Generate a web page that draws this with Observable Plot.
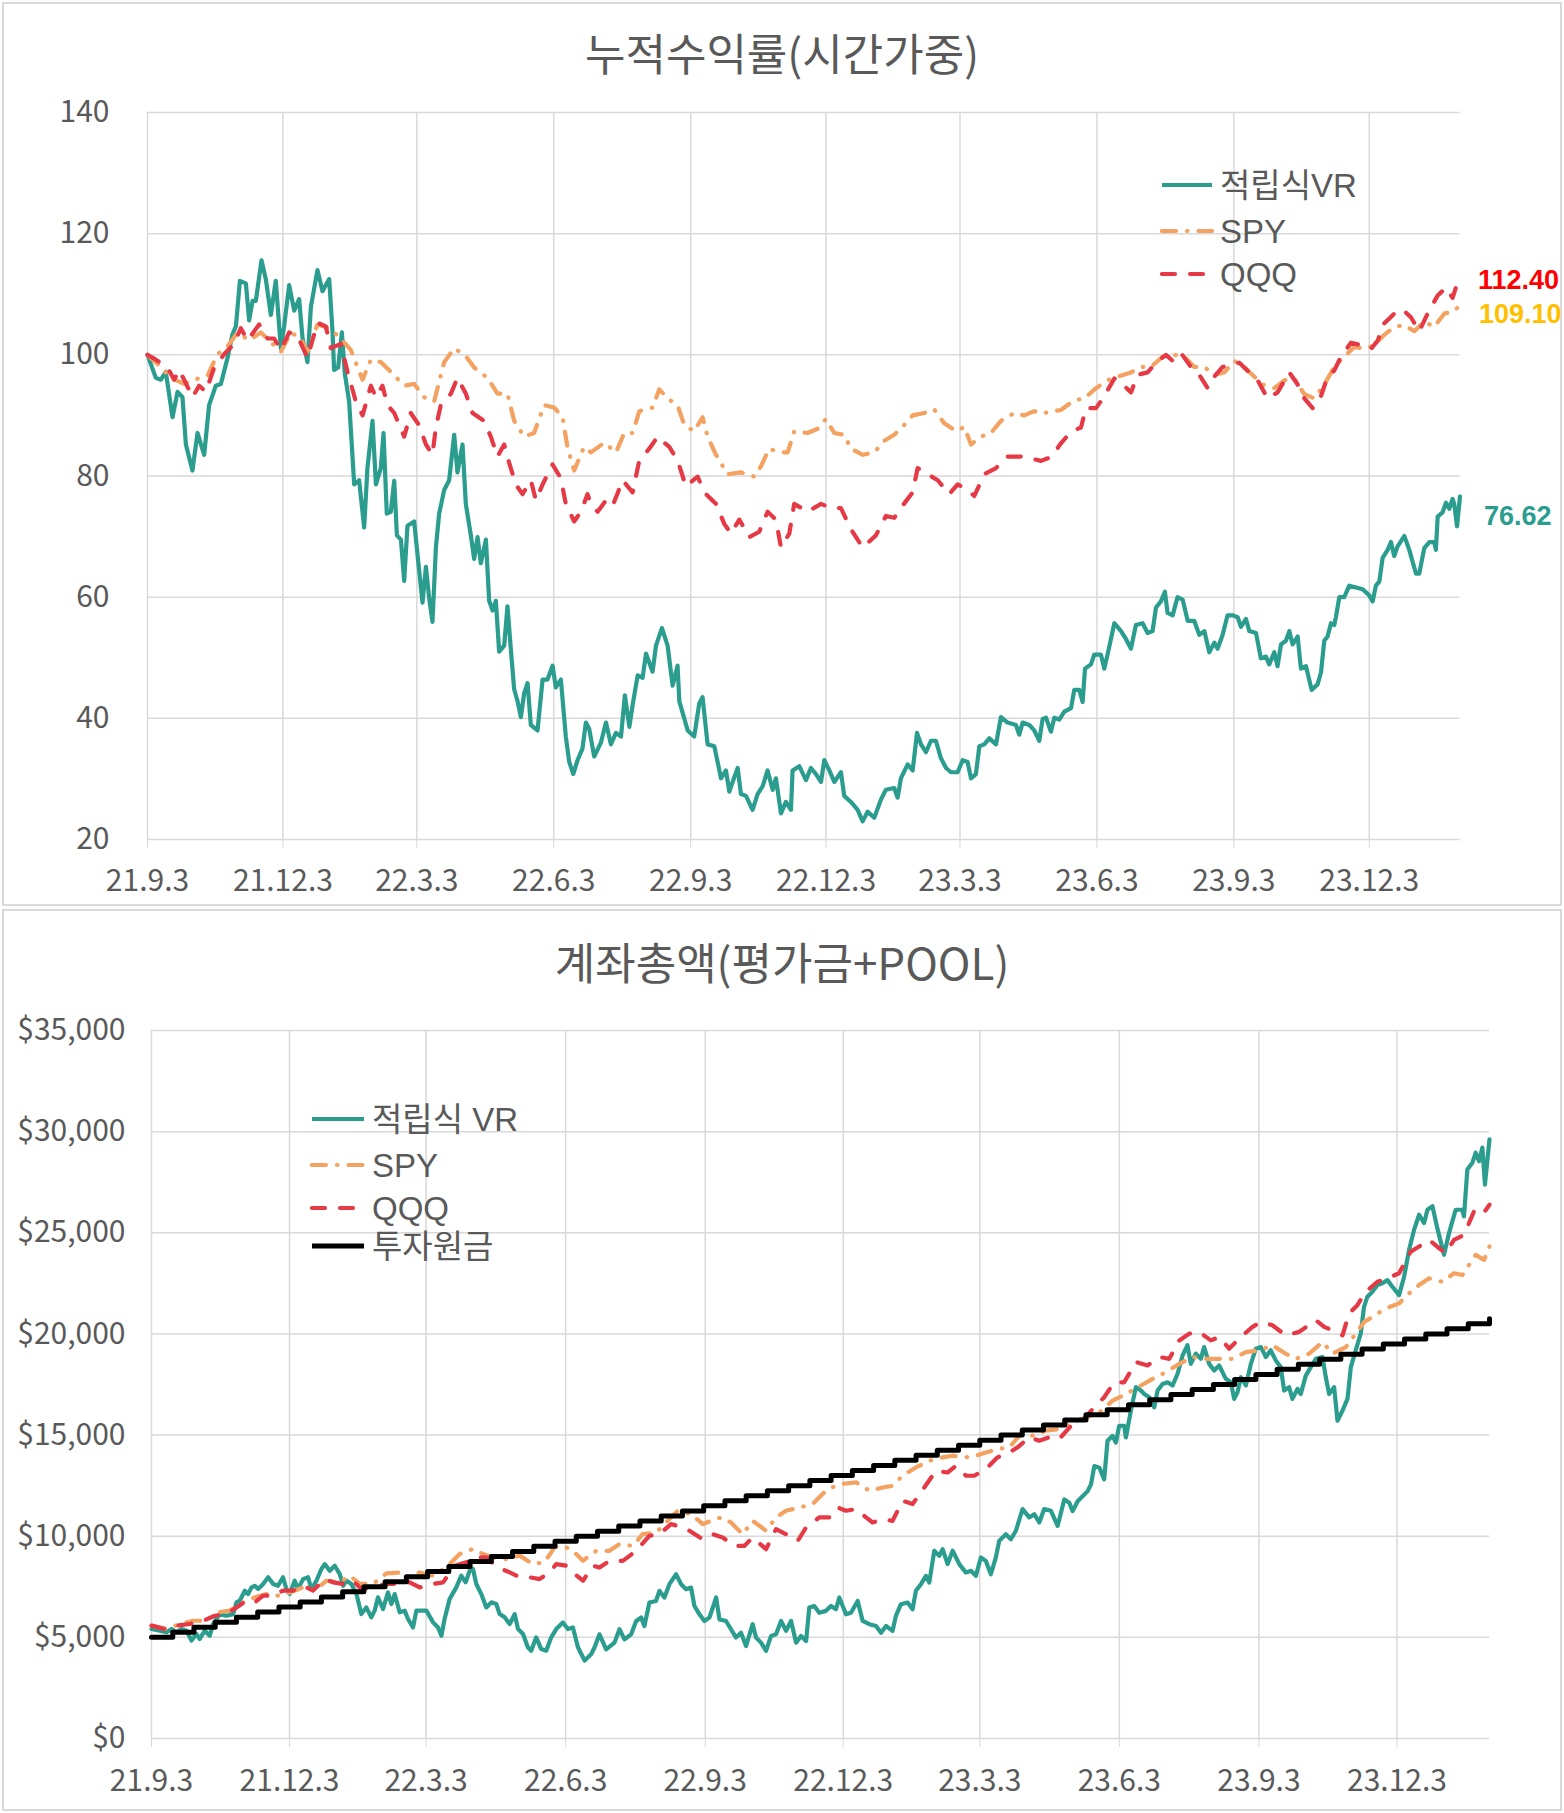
<!DOCTYPE html>
<html><head><meta charset="utf-8">
<script src="https://cdn.jsdelivr.net/npm/d3@7"></script>
<script src="https://cdn.jsdelivr.net/npm/@observablehq/plot@0.6"></script>
<style>
body{margin:0;background:#fff;}
#page{position:relative;width:1564px;height:1813px;font-family:"Noto Sans CJK KR","Noto Sans",sans-serif;overflow:hidden;}
.panel{position:absolute;left:2px;width:1560px;border:2px solid #D9D9D9;box-sizing:border-box;}
.title{position:absolute;left:0;width:1564px;text-align:center;color:#595959;font-size:44px;line-height:1;white-space:nowrap;}
.chart{position:absolute;left:0;}
.litem{position:absolute;height:34px;display:flex;align-items:center;white-space:nowrap;color:#595959;font-family:"Liberation Sans","Noto Sans CJK KR",sans-serif;font-size:33px;line-height:1;}
.litem svg{display:block;}
.litem span{margin-left:6px;}
</style></head>
<body><div id="page"></div>
<script>
// ---------- text ----------
const topTitle = "누적수익률(시간가중)";
const bottomTitle = "계좌총액(평가금+POOL)";
const topSeriesNames = ["적립식VR", "SPY", "QQQ"];
const bottomSeriesNames = ["적립식 VR", "SPY", "QQQ", "투자원금"];
const topEndLabels = ["112.40", "109.10", "76.62"]; // QQQ, SPY, VR

// ---------- axes ----------
const startDate = "2021-09-03";   // day 0 of every series below
const lastDay = 882;              // 2024-02-02
const xTickDates = ["2021-09-03","2021-12-03","2022-03-03","2022-06-03","2022-09-03","2022-12-03","2023-03-03","2023-06-03","2023-09-03","2023-12-03"];
const topYTicks = [20, 40, 60, 80, 100, 120, 140];
const bottomYTicks = [0, 5000, 10000, 15000, 20000, 25000, 30000, 35000];

// ---------- top chart: [days since start, value] ----------
const topVR = [[0,100],[5.6,96.2],[9,95.9],[12.3,97.2],[16.8,89.7],[20.2,93.9],[23.5,93],[25.8,85.2],[30.2,80.9],[33.6,87.1],[38.1,83.5],[41.4,91.7],[45.9,94.9],[49.3,95.2],[53.8,99.5],[57.1,103.4],[59.4,104.7],[62.1,112.2],[66.1,111.8],[68.3,105.7],[70.6,108.9],[72.8,108.9],[76.6,115.6],[79.5,112.5],[82.9,106.6],[86.2,112.2],[89.6,101.1],[91.8,104.7],[95.2,111.5],[98.6,107.3],[101.9,109.2],[104.2,102.7],[107.5,98.8],[109.8,107.9],[114.2,114],[117.6,110.5],[122.1,112.5],[124.3,104],[125.4,97.5],[128.1,97.9],[130.6,103.7],[132.6,96.9],[135.5,92.3],[138.9,78.6],[142.2,79.3],[145.6,71.5],[147.8,81.3],[151.2,89.1],[153.5,78.6],[156.8,81.3],[158.6,87.1],[160.8,73.8],[163.5,74.1],[165.8,79.2],[167.6,70.2],[170.3,69.5],[172.5,62.7],[174.7,71.8],[179.2,72.5],[181.5,66.9],[184.8,59.1],[187.1,65],[189.3,59.8],[191.5,55.9],[193.8,68.2],[196,73.8],[199.4,77.7],[202.7,79.3],[206.1,86.8],[208.3,80.6],[211.7,85.2],[213.9,75.4],[217.3,70.2],[219.5,66.3],[221.8,69.9],[224,65.6],[227.4,69.5],[229.6,59.4],[231.9,57.8],[234.1,59.4],[236.3,51],[239.7,52],[241.9,58.5],[244.2,51.3],[246.4,44.8],[248.7,42.8],[250.9,40.2],[253.1,44.1],[255.4,45.8],[257.6,38.9],[262.1,38],[265.5,46.4],[268.8,46.4],[272.2,48.7],[274.4,45.1],[277.8,46.4],[281.1,37],[283.4,32.8],[286.1,30.8],[289,33.1],[292.3,35],[294.6,39.3],[296.8,38.3],[300.2,33.7],[304.7,36],[308.1,39.3],[311.4,35.7],[314.8,37.6],[318.2,37],[320.8,43.8],[323.8,38.6],[326,42.2],[329.4,47.1],[332.7,46.7],[335,50.7],[339.4,47.7],[341.7,52],[345.7,54.9],[349.5,52],[352.9,45.4],[356.2,48.7],[357.4,42.8],[363,38],[367.4,37],[370.8,42.5],[373,43.5],[376.4,35.7],[380.9,35.4],[385.4,30.1],[388.7,31.4],[391,27.9],[393.2,29.5],[396.6,31.8],[398.8,27.5],[402.2,27.2],[406.6,24.9],[410,27.5],[413.4,28.8],[416.7,31.4],[420.1,28.2],[422.3,30.1],[425.7,24.3],[429,26.2],[432.4,24.9],[433.5,31.4],[438,32.1],[442.5,29.8],[445.8,31.8],[449.2,30.8],[452.6,29.5],[454.8,33.1],[458.2,31.4],[461.5,29.5],[466,31.1],[468.2,27.2],[472.7,26.2],[477.2,24.9],[480.6,23],[483.9,24.6],[488.4,23.6],[492.9,26.6],[496.2,28.2],[501.8,28.5],[504.1,26.9],[506.3,30.1],[510.8,32.4],[514.2,31.4],[517.1,37.6],[519.8,35.7],[523.1,34.4],[526.5,36.3],[529.8,36.3],[533.2,33.4],[536.6,31.8],[539.9,31.1],[544.4,31.1],[547.8,33.1],[551.1,32.8],[553.4,30.1],[556.7,30.8],[559,35.4],[562.3,35.7],[565.7,36.7],[570.2,35.7],[573.5,40.2],[578,39.3],[583.6,38.9],[585.8,37.3],[588.1,39.3],[592.6,38.9],[595.9,38],[599.3,36.3],[601.5,39.9],[603.8,40.1],[607.1,37.8],[609.4,40.1],[612.7,39.8],[616.1,41.1],[620.6,41.7],[622.8,44.7],[626.2,44.7],[628.4,42.7],[630,48.2],[634,48.9],[636.2,50.5],[640.7,50.5],[643,48.2],[646.3,51.8],[649.7,55.7],[654.2,54.4],[657.5,53.1],[660.9,51.5],[664.2,55.4],[668.7,55.7],[672.1,54.1],[675.4,54.4],[677.7,58.3],[681,59.3],[683.7,60.9],[685.5,57.4],[688.9,57],[692.2,60],[695.6,59.6],[699,56.1],[703.4,56.1],[706.8,53.8],[710.2,54.4],[713.5,50.9],[716.9,52.5],[719.1,51.5],[722.5,53.8],[725.8,57],[729.2,57],[732.6,56.7],[734.8,55.1],[738.2,56.4],[740.4,54.4],[744.9,54.1],[748.2,49.9],[751.6,50.2],[753.8,48.9],[757.2,50.9],[759.4,48.6],[761.7,52.2],[765,52.8],[767.3,54.4],[769.5,52.2],[772.9,53.5],[775.1,48.2],[778.5,48.6],[782.3,44.7],[786.3,45.6],[788.6,47.6],[790.8,52.8],[793,53.5],[795.3,55.7],[797.5,55.4],[798.6,56.7],[800.9,60],[804.2,60],[807.6,61.9],[812.1,61.6],[816.6,61.3],[821,60.3],[823.3,59.3],[825.5,61.9],[827.8,62.6],[830,66.5],[833.4,67.8],[835.6,69.1],[837.8,66.8],[840.1,68.4],[844.6,70.1],[847.9,67.8],[852.4,63.9],[854.6,63.9],[858,68.1],[861.4,69.1],[864.7,69.1],[865.8,67.8],[867,73.3],[870.3,74],[872.6,75.6],[874.8,74.6],[877,76.2],[878.2,75.3],[880,71.7],[882,76.62]];

const topSPY = [[0,100],[6.7,98.5],[15.7,96.2],[24.6,95.2],[31.4,95.9],[40.3,96.5],[47,100.1],[53.8,101.4],[60.5,103.7],[68.3,102.4],[76.2,103.7],[84,101.8],[89.6,100.5],[96.3,103.7],[103,102.7],[107.5,100.5],[114.2,105],[122.1,104.4],[129.9,102.7],[136.6,100.8],[144.5,95.9],[150.1,99.2],[156.8,98.8],[163.5,97.2],[172.5,94.9],[179.2,95.2],[185.9,93],[192.6,92.3],[199.4,98.8],[206.1,101.1],[213.9,99.8],[219.5,97.9],[228.5,96.2],[235.2,93.6],[241.9,93.6],[246.4,89.1],[253.1,86.5],[259.8,87.1],[266.6,91.7],[273.3,91.3],[278.9,89.7],[282.2,84.8],[286.7,80.9],[293.4,84.8],[298,83.9],[307,85.5],[314.8,83.9],[320.4,87.1],[326,87.1],[330.5,90.7],[339.4,91.3],[343.9,94.3],[350.6,92.6],[356.2,91.7],[360.7,88.4],[367.4,87.4],[373,89.7],[376.4,86.5],[382,83.5],[389.8,80.3],[398.8,80.6],[407.8,79.9],[412.2,81.6],[417.8,84.5],[424.6,83.9],[430.2,83.9],[434.6,87.4],[443.6,87.1],[450.3,87.8],[455.9,89.4],[461.5,87.1],[468.2,86.8],[472.7,84.5],[480.6,83.5],[488.4,83.9],[495.1,85.8],[501.8,86.8],[507.4,88.1],[514.2,90],[522,90.4],[528.7,91],[535.4,88.7],[543.3,87.4],[548.9,88.1],[553.4,85.2],[560.1,86.5],[566.8,87.1],[573.5,89.1],[582.5,90.4],[589.2,90],[595.9,90.7],[600.4,90.3],[607.1,90.6],[613.8,90.9],[622.8,92.5],[629.5,92.8],[637.4,94.5],[645.2,95.8],[651.9,96.4],[660.9,97.1],[667.6,98],[674.3,98],[682.2,99.7],[690,100],[696.7,99.7],[703.4,98],[710.2,98],[716.9,96.7],[723.6,97.1],[730.3,99],[737,98],[743.8,96.4],[749.4,95.1],[757.2,94.5],[763.9,95.8],[770.6,96.1],[777.4,93.5],[784.1,92.8],[790.8,95.1],[797.5,98],[804.2,99.7],[811,101.3],[817.7,101],[824.4,101.6],[831.1,103.3],[837.8,104.6],[844.6,104.9],[851.3,103.9],[858,105.5],[864.7,104.6],[871.4,106.8],[878.2,107.2],[882,108.3]];

const topQQQ = [[0,100],[5.6,99.2],[13.4,97.9],[17.9,95.9],[21.3,97.5],[24.6,95.9],[30.2,93],[34.7,94.9],[39.2,93.9],[44.8,97.9],[51.5,100.1],[58.2,101.8],[62.7,104.4],[67.2,102.4],[75,105],[80.6,102.7],[85.1,102.7],[89.6,100.8],[95.2,103.7],[100.8,103.1],[107.5,99.5],[114.2,105.3],[119.8,104.7],[123.2,101.1],[129.9,101.8],[134.4,97.2],[140,92.3],[144.5,90],[150.1,94.9],[153.5,93],[157.9,94.9],[161.3,91.7],[165.8,90.4],[172.5,86.5],[176.9,90.4],[182.5,88.4],[187.1,85.2],[191.5,83.5],[193.8,88.1],[197.1,91.7],[203.9,93.6],[208.3,96.2],[213.9,93.6],[218.4,90.4],[226.2,89.1],[230.7,86.5],[235.2,83.2],[239.7,85.2],[243,82.2],[247.5,78.6],[252,77],[257.6,79.3],[261,76],[265.5,78.6],[272.2,81.9],[277.8,79.6],[281.1,75.4],[286.7,72.5],[291.2,74.1],[295.7,77],[298,75.4],[302.5,74.1],[308.1,76],[312.6,75.1],[319.3,79.3],[326,77.3],[330.5,82.6],[337.2,84.5],[342.8,86.5],[350.6,84.8],[356.2,82.6],[361.8,78.3],[369.7,79.9],[374.2,77.3],[382,75.4],[387.6,72.1],[392.1,70.5],[397.7,72.8],[404.4,69.9],[411.1,70.8],[416.7,74.1],[422.3,72.8],[425.7,68.2],[431.3,70.5],[434.6,75.4],[443.6,74.1],[452.6,75.4],[459.3,74.7],[466,74.7],[472.7,71.2],[480.6,68.2],[489.5,70.2],[496.2,73.4],[501.8,73.1],[507.4,75.1],[514.2,77.3],[517.5,81.3],[524.2,80.3],[531,79.3],[538.8,77],[544.4,78.6],[550,77.9],[555.6,76.7],[562.3,80.3],[570.2,81.3],[578,83.2],[587,83.2],[593.7,82.9],[600.4,82.5],[607.1,83.1],[613.8,85.4],[620.6,87.3],[627.3,88],[630.6,91.2],[637.4,91.2],[643,93.2],[649.7,96.1],[655.3,95.1],[660.9,93.8],[665.4,96.7],[672.1,97.1],[677.7,98.7],[684.4,100],[688.9,99],[694.5,100.3],[701.2,98],[705.7,97.1],[712.4,94.5],[716.9,96.4],[722.5,98],[728.1,98.4],[733.7,98.7],[740.4,97.1],[746,95.8],[752.7,92.8],[759.4,93.8],[767.3,97.1],[772.9,95.1],[777.4,92.8],[783,91.2],[788.6,93.2],[793,96.4],[797.5,97.4],[802,99.7],[808.7,102],[815.4,101.6],[822.2,101],[826.6,102.3],[831.1,105.2],[837.8,106.8],[843.4,107.5],[849,106.2],[854.6,103.9],[860.2,106.8],[867,109.8],[872.6,111.1],[877,109.4],[880.4,112],[882,112.4]];

// ---------- bottom chart: [days since start, USD] ----------
const bottomVR = [[0,5410],[5.5,5330],[9.9,5250],[13.2,5410],[16.5,5250],[19.8,5410],[23.1,5330],[26.4,4840],[29.6,5170],[31.8,4920],[35.1,5330],[38.4,5080],[40.6,5660],[45,6150],[49.4,6070],[53.8,6150],[56,6730],[58.2,6810],[61.5,7310],[63.7,7140],[65.9,7470],[68.1,7550],[70.3,7390],[73.6,7640],[76.9,7970],[80.2,7640],[83.4,7550],[86.7,7970],[88.9,7390],[91.1,7140],[94.4,7800],[96.6,7390],[99.9,7880],[103.2,7970],[105.4,7390],[108.7,7800],[112,8380],[114.2,8620],[117.5,8290],[120.8,8540],[124.1,8130],[126.3,7550],[128.5,7800],[131.8,7640],[135.1,7140],[138.3,6150],[141.6,6480],[144.9,5990],[147.1,6320],[149.3,6980],[152.6,6400],[155.9,7220],[158.1,6650],[160.3,7140],[163.6,6240],[166.9,6320],[169.1,5910],[172.4,5490],[174.6,6320],[177.9,6320],[181.2,6320],[185.6,5740],[188.9,5490],[191.1,5080],[193.2,5910],[196.5,6890],[200.9,7470],[204.2,8050],[207.1,7720],[209.7,8290],[211.9,8380],[214.1,7640],[217.4,7140],[220.7,6480],[224,6730],[227.3,6650],[229.5,6150],[232.8,5990],[236.1,5660],[239.4,6150],[241.6,5410],[244.9,5170],[248.1,4510],[250.3,4340],[253.6,5000],[256.9,4420],[260.2,4340],[263.5,5000],[266.8,5410],[271.2,5740],[274.5,5410],[277.8,5490],[281.1,4510],[285.5,3850],[289.9,4180],[292.1,4510],[295.3,5150],[299.7,4410],[305.2,4740],[308.5,5400],[311.8,4900],[316.2,5150],[319.5,5810],[322.8,5980],[324.9,5560],[328.2,6720],[332.6,6800],[334.8,7300],[338.1,6970],[341.4,7630],[345.8,8120],[349.1,7630],[352.4,7380],[355.7,7460],[357.9,6550],[361.2,6140],[364.5,5810],[367.8,5980],[372.2,6970],[374.4,5890],[378.7,5810],[382,5400],[385.3,4990],[388.6,5230],[391.9,4570],[396.3,5650],[398.5,4990],[401.8,4740],[405.1,4330],[408.4,5070],[411.7,5150],[415,5810],[418.3,5320],[421.6,5810],[424.9,4740],[428.2,5070],[431.5,4820],[433.6,6470],[436.9,6550],[440.2,6220],[444.6,6310],[447.9,6550],[451.2,6390],[453.4,6970],[457.8,6140],[461.1,6220],[465.5,6800],[468.8,5810],[473.2,5650],[477.6,5560],[480.9,5230],[484.2,5560],[488.5,5320],[490.7,6060],[494,6640],[498.4,6720],[501.7,6390],[503.9,7300],[507.2,7630],[510.5,8040],[512.7,7710],[516,9280],[519.3,9030],[521.5,9360],[524.8,8620],[528.1,9280],[532.5,8620],[536.9,8200],[540.2,8290],[543.4,8040],[546.7,8950],[550,8780],[553.3,8120],[556.6,8950],[558.8,9770],[563.2,10100],[566.5,9850],[569.8,10270],[574.2,11340],[578.6,10930],[581.9,11090],[585.2,10680],[588.5,11340],[592.9,11260],[597.3,10510],[601.7,11820],[605,11650],[607.2,11240],[610.5,11730],[613.8,11980],[617.1,12230],[619.3,12560],[621.5,13470],[624.8,13390],[628,12810],[630.2,14720],[633.5,14960],[635.7,14630],[637.9,15460],[641.2,15460],[642.3,14880],[645.6,16210],[648.9,17370],[652.2,17200],[654.4,17030],[657.7,16870],[661,16370],[663.2,17200],[666.5,17530],[669.8,17610],[673.1,17450],[676.4,18030],[679.7,18940],[682.9,19440],[685.1,18520],[688.4,19020],[691.7,18770],[693.9,19350],[697.2,18520],[700.5,18190],[703.8,18440],[708.2,17780],[711.5,17610],[713.7,16790],[715.9,17120],[718.1,17860],[721.4,17450],[724.7,18520],[728,19270],[731.3,19350],[734.6,18860],[737.8,19190],[741.1,18690],[744.4,18360],[746.6,17200],[749.9,17370],[752.1,16790],[755.4,17280],[757.6,17030],[760.9,17940],[764.2,18360],[767.5,18770],[771.9,18860],[774.1,17860],[776.3,17030],[779.6,17370],[781.8,15710],[785.1,16210],[788.4,16790],[790.6,18360],[793.8,19190],[797.1,20010],[799.3,21340],[801.5,21840],[804.8,22080],[808.1,22420],[811.4,22500],[814.7,22660],[818,22330],[822.4,21920],[825.7,22830],[829,24160],[832.3,25150],[835.6,25890],[838.9,25480],[841.1,26140],[844.4,26310],[847.6,25230],[852,23910],[855.3,24980],[859.7,26140],[864.1,26140],[865.2,25810],[867.4,28130],[870.7,28460],[872.9,28960],[875.1,28540],[877.3,29210],[879,27380],[882,29620]];

const bottomSPY = [[0,5580],[9.9,5410],[18.7,5660],[27.5,5820],[36.2,5820],[43.9,6240],[51.6,6320],[60.4,6730],[68.1,6980],[75.8,7140],[83.4,7060],[91.1,7220],[99.9,7470],[107.6,7310],[115.3,7800],[124.1,7720],[130.7,8050],[137.3,7640],[146,7640],[154.8,8160],[163.6,8210],[170.2,7970],[176.8,8210],[185.6,8050],[194.3,8460],[203.1,9120],[211.9,9370],[218.5,9120],[225.1,8950],[233.9,8870],[242.7,9040],[251.4,8620],[259.1,8710],[265.7,9450],[271.2,9530],[277.8,9280],[284.4,8790],[293.2,9280],[301.9,9280],[308.5,9610],[317.3,9520],[323.8,10100],[332.6,10180],[339.2,10680],[346.9,11260],[355.7,11090],[363.4,10600],[368.9,10760],[375.5,10930],[382,10680],[389.7,10100],[396.3,10760],[405.1,10270],[411.7,10930],[418.3,11260],[427.1,11420],[435.8,11590],[445.7,12330],[454.5,12580],[464.4,12660],[473.2,12250],[482,12410],[488.5,12490],[495.1,12990],[503.9,13400],[512.7,13730],[521.5,13900],[528.1,13980],[536.9,13900],[543.4,13980],[550,14140],[557.7,14310],[565.4,14390],[573.1,15050],[580.8,14970],[589.6,15220],[598.4,15300],[607.2,15630],[616,15870],[624.8,16120],[633.5,16700],[642.3,17030],[652.2,17450],[659.9,17780],[668.7,18110],[677.5,18520],[686.2,18860],[695,18770],[703.8,18770],[712.6,18770],[721.4,19100],[730.2,19190],[738.9,19440],[747.7,19020],[754.3,18770],[763.1,19020],[771.9,19600],[778.5,19020],[787.3,19350],[793.8,20010],[799.3,20590],[804.8,20840],[813.6,21260],[822.4,21510],[829,22000],[835.6,22420],[842.2,22750],[850.9,22580],[858.6,23000],[864.1,22910],[872.9,23910],[878.4,23660],[882,24320]];

const bottomQQQ = [[0,5580],[8.8,5410],[16.5,5580],[25.3,5660],[34,5820],[41.7,6070],[49.4,6150],[56,6480],[62.6,6810],[68.1,6730],[73.6,7060],[80.2,7060],[86.7,7310],[93.3,7310],[99.9,7550],[106.5,7310],[114.2,7880],[119.7,7720],[126.3,7640],[132.9,7800],[138.3,7390],[146,7470],[154.8,7640],[161.4,7640],[170.2,7720],[176.8,7470],[185.6,7640],[192.2,7720],[199.8,8540],[207.5,8710],[214.1,8950],[220.7,8950],[228.4,8460],[236.1,8210],[242.7,7970],[249.2,7970],[255.8,7880],[262.4,8210],[266.8,8620],[273.4,8540],[277.8,8210],[284.4,7800],[291,8540],[295.3,8450],[301.9,8780],[310.7,8780],[319.5,9280],[328.2,10020],[334.8,10100],[342.5,10600],[350.2,10430],[354.6,10270],[363.4,9850],[369.9,10100],[376.5,9940],[384.2,9520],[390.8,9520],[396.3,9940],[405.1,9360],[411.7,10350],[418.3,10100],[426,9770],[431.5,10430],[440.2,10930],[446.8,10930],[452.3,11420],[457.8,11260],[464.4,11340],[471,10930],[475.4,10680],[482,10840],[488.5,10760],[495.1,11750],[501.7,11590],[509.4,12410],[517.1,13240],[524.8,13150],[530.3,13480],[536.9,12990],[542.3,12990],[550,13320],[557.7,13900],[565.4,14140],[570.9,14390],[578.6,14890],[585.2,14720],[591.7,14890],[598.3,14800],[606.1,15460],[613.8,15710],[620.4,16290],[628,16870],[634.6,17610],[641.2,17610],[648.9,18610],[656.6,18440],[664.3,18860],[670.9,18770],[677.5,19680],[684,20010],[690.6,20100],[698.3,19680],[703.8,19850],[710.4,19270],[718.1,19850],[725.8,20350],[731.3,20590],[738.9,20430],[747.7,19930],[756.5,20100],[767.5,20680],[773,20350],[778.5,20180],[785.1,19930],[789.4,21010],[794.9,21420],[800.4,22080],[808.1,22580],[814.7,22750],[822.4,23000],[830.1,24070],[835.6,24320],[842.2,24650],[848.7,24240],[853.1,23990],[858.6,24650],[865.2,24900],[871.8,26060],[877.3,25890],[882,26390]];

// principal (투자원금): deposit dates and running total
const principalDates = ["2021-09-03","2021-09-17","2021-10-01","2021-10-15","2021-10-29","2021-11-12","2021-11-26","2021-12-10","2021-12-24","2022-01-07","2022-01-21","2022-02-04","2022-02-18","2022-03-04","2022-03-18","2022-04-01","2022-04-15","2022-04-29","2022-05-13","2022-05-27","2022-06-10","2022-06-24","2022-07-08","2022-07-22","2022-08-05","2022-08-19","2022-09-02","2022-09-16","2022-09-30","2022-10-14","2022-10-28","2022-11-11","2022-11-25","2022-12-09","2022-12-23","2023-01-06","2023-01-20","2023-02-03","2023-02-17","2023-03-03","2023-03-17","2023-03-31","2023-04-14","2023-04-28","2023-05-12","2023-05-26","2023-06-09","2023-06-23","2023-07-07","2023-07-21","2023-08-04","2023-08-18","2023-09-01","2023-09-15","2023-09-29","2023-10-13","2023-10-27","2023-11-10","2023-11-24","2023-12-08","2023-12-22","2024-01-05","2024-01-19","2024-02-02"];
const principalValues = [5000,5250,5500,5750,6000,6250,6500,6750,7000,7250,7500,7750,8000,8250,8500,8750,9000,9250,9500,9750,10000,10250,10500,10750,11000,11250,11500,11750,12000,12250,12500,12750,13000,13250,13500,13750,14000,14250,14500,14750,15000,15250,15500,15750,16000,16250,16500,16750,17000,17250,17500,17750,18000,18250,18500,18750,19000,19250,19500,19750,20000,20250,20500,20750];

// ---------- helpers ----------
const C = {vr:"#2A9D8F", spy:"#F4A261", qqq:"#E63946", principal:"#000000", grid:"#D9D9D9", text:"#595959"};
const DASH_SPY = "14,11,0.5,11";
const DASH_QQQ = "13,15";
const LW = 4.2;
const FONT = '"Noto Sans CJK KR","Noto Sans",sans-serif';
const LABEL_FONT = '"Liberation Sans","Noto Sans",sans-serif';
const parse = s => new Date(s + "T00:00:00Z");
const base = parse(startDate).getTime();
const toDate = d => new Date(base + d * 864e5);
const rows = pairs => pairs.map(([d, v]) => ({date: toDate(d), value: v}));
const xTicks = xTickDates.map(parse);
const fmtX = d => `${d.getUTCFullYear() % 100}.${d.getUTCMonth() + 1}.${d.getUTCDate()}`;
const xDomain = [toDate(0), toDate(lastDay)];
const page = document.getElementById("page");

function addDiv(cls, css, html) {
  const el = document.createElement("div");
  el.className = cls; Object.assign(el.style, css);
  if (html != null) el.textContent = html;
  page.appendChild(el); return el;
}
function legend(items, left, centers, sampleW) {
  items.forEach((it, i) => {
    const el = addDiv("litem", {left: left + "px", top: (centers[i] - 17) + "px"});
    const ns = "http://www.w3.org/2000/svg";
    const svg = document.createElementNS(ns, "svg");
    svg.setAttribute("width", sampleW); svg.setAttribute("height", 14);
    const ln = document.createElementNS(ns, "line");
    ln.setAttribute("x1", 2); ln.setAttribute("x2", sampleW - 2);
    ln.setAttribute("y1", 7); ln.setAttribute("y2", 7);
    ln.setAttribute("stroke", it.stroke); ln.setAttribute("stroke-width", it.w || LW);
    ln.setAttribute("stroke-linecap", it.dash ? "round" : "butt");
    if (it.dash) ln.setAttribute("stroke-dasharray", it.dash);
    svg.appendChild(ln); el.appendChild(svg);
    const sp = document.createElement("span"); sp.textContent = it.label; el.appendChild(sp);
  });
}

// ---------- panels & titles ----------
addDiv("panel", {top: "2px", height: "904px"});
addDiv("panel", {top: "909px", height: "902px"});
addDiv("title", {top: "30px"}, topTitle);
addDiv("title", {top: "939px"}, bottomTitle);

// ---------- top chart ----------
const vrTop = rows(topVR), spyTop = rows(topSPY), qqqTop = rows(topQQQ);
const lastOf = a => a[a.length - 1];
const topPlot = Plot.plot({
  width: 1564, height: 905,
  marginLeft: 147, marginRight: 104.5, marginTop: 112, marginBottom: 66,
  style: {fontFamily: FONT, fontSize: "30px", color: C.text, background: "transparent", overflow: "visible"},
  x: {type: "utc", domain: xDomain},
  y: {domain: [20, 140]},
  marks: [
    Plot.gridX(xTicks, {stroke: C.grid, strokeOpacity: 1, strokeWidth: 1.5}),
    Plot.gridY(topYTicks, {stroke: C.grid, strokeOpacity: 1, strokeWidth: 1.5}),
    Plot.axisX(xTicks, {tickFormat: fmtX, tickSize: 9, tickPadding: 21, stroke: C.grid, fill: C.text, label: null}),
    Plot.axisY(topYTicks, {tickSize: 0, tickPadding: 38, fill: C.text, label: null}),
    Plot.line(vrTop, {x: "date", y: "value", stroke: C.vr, strokeWidth: LW, strokeLinejoin: "round"}),
    Plot.line(spyTop, {x: "date", y: "value", stroke: C.spy, strokeWidth: LW, strokeDasharray: DASH_SPY, strokeLinecap: "round", strokeLinejoin: "round"}),
    Plot.line(qqqTop, {x: "date", y: "value", stroke: C.qqq, strokeWidth: LW, strokeDasharray: DASH_QQQ, strokeLinecap: "round", strokeLinejoin: "round"}),
    Plot.text([lastOf(qqqTop)], {x: "date", y: "value", text: () => topEndLabels[0], textAnchor: "start", dx: 18, dy: 1, fill: "#FF0000", fontWeight: "bold", fontSize: 27, fontFamily: LABEL_FONT}),
    Plot.text([lastOf(spyTop)], {x: "date", y: "value", text: () => topEndLabels[1], textAnchor: "start", dx: 19, dy: 10, fill: "#FFC000", fontWeight: "bold", fontSize: 27, fontFamily: LABEL_FONT}),
    Plot.text([lastOf(vrTop)], {x: "date", y: "value", text: () => topEndLabels[2], textAnchor: "start", dx: 24, dy: 20, fill: C.vr, fontWeight: "bold", fontSize: 27, fontFamily: LABEL_FONT})
  ]
});
const topWrap = addDiv("chart", {top: "0px"});
topWrap.appendChild(topPlot);

legend([
  {label: topSeriesNames[0], stroke: C.vr},
  {label: topSeriesNames[1], stroke: C.spy, dash: DASH_SPY},
  {label: topSeriesNames[2], stroke: C.qqq, dash: DASH_QQQ}
], 1160, [185, 231, 274], 54);

// ---------- bottom chart ----------
const principalRows = principalDates.map((s, i) => ({date: parse(s), value: principalValues[i]}));
const fmtUSD = v => "$" + d3.format(",")(v);
const botPlot = Plot.plot({
  width: 1564, height: 900,
  marginLeft: 151, marginRight: 75, marginTop: 120, marginBottom: 72,
  style: {fontFamily: FONT, fontSize: "30px", color: C.text, background: "transparent", overflow: "visible"},
  x: {type: "utc", domain: xDomain},
  y: {domain: [0, 35000]},
  marks: [
    Plot.gridX(xTicks, {stroke: C.grid, strokeOpacity: 1, strokeWidth: 1.5}),
    Plot.gridY(bottomYTicks, {stroke: C.grid, strokeOpacity: 1, strokeWidth: 1.5}),
    Plot.axisX(xTicks, {tickFormat: fmtX, tickSize: 9, tickPadding: 22, stroke: C.grid, fill: C.text, label: null}),
    Plot.axisY(bottomYTicks, {tickFormat: fmtUSD, tickSize: 0, tickPadding: 26, fill: C.text, label: null}),
    Plot.line(rows(bottomVR), {x: "date", y: "value", stroke: C.vr, strokeWidth: LW, strokeLinejoin: "round"}),
    Plot.line(rows(bottomSPY), {x: "date", y: "value", stroke: C.spy, strokeWidth: LW, strokeDasharray: DASH_SPY, strokeLinecap: "round", strokeLinejoin: "round"}),
    Plot.line(rows(bottomQQQ), {x: "date", y: "value", stroke: C.qqq, strokeWidth: LW, strokeDasharray: DASH_QQQ, strokeLinecap: "round", strokeLinejoin: "round"}),
    Plot.line(principalRows, {x: "date", y: "value", curve: "step-after", stroke: C.principal, strokeWidth: 5})
  ]
});
const botWrap = addDiv("chart", {top: "910px"});
botWrap.appendChild(botPlot);

legend([
  {label: bottomSeriesNames[0], stroke: C.vr},
  {label: bottomSeriesNames[1], stroke: C.spy, dash: DASH_SPY},
  {label: bottomSeriesNames[2], stroke: C.qqq, dash: DASH_QQQ},
  {label: bottomSeriesNames[3], stroke: C.principal, w: 5}
], 310, [1119, 1165, 1208, 1246], 56);
</script>
</body></html>
